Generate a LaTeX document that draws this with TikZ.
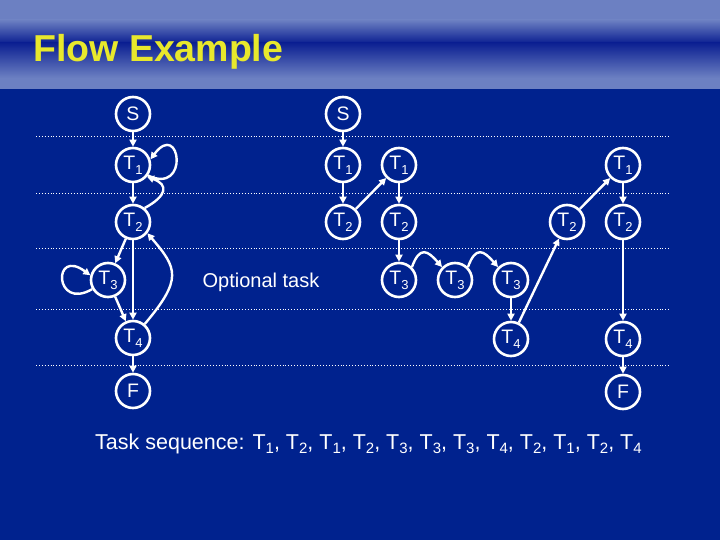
\documentclass[tikz,border=0pt]{standalone}
\usepackage{fontspec}
\setmainfont{Liberation Sans}
\usepackage{tikz}
\usetikzlibrary{arrows.meta,calc}

\definecolor{slidebg}{RGB}{0,34,142}
\definecolor{bandlight}{RGB}{108,128,194}
\definecolor{banddark}{RGB}{12,32,146}
\definecolor{titleyellow}{RGB}{232,232,44}

% label T with subscript
\newcommand{\tsub}[2]{#1\raisebox{-5pt}{\fontsize{13}{13}\selectfont #2}}
\newcommand{\tseq}[1]{T\raisebox{-4.5pt}{\fontsize{15}{15}\selectfont #1}}

\tikzset{
  task/.style={circle, draw=white, line width=2.6pt, minimum size=34pt,
    inner sep=0pt, text=white, font=\fontsize{19.5}{19.5}\selectfont},
  flow/.style={draw=white, line width=2.4pt,
    -{Triangle[length=7pt,width=7pt]}},
  guide/.style={white, line width=0.9pt, dotted}
}

\begin{document}
\begin{tikzpicture}[x=1pt,y=-1pt]
% background and title band
\fill[slidebg] (0,0) rectangle (720,540);
\fill[bandlight] (0,0) rectangle (720,20);
\shade[top color=bandlight, bottom color=banddark] (0,20) rectangle (720,43);
\shade[top color=banddark, bottom color=bandlight] (0,43) rectangle (720,78);
\fill[bandlight] (0,78) rectangle (720,89);
\useasboundingbox (0,0) rectangle (720,540);
\node[anchor=base west, text=titleyellow, inner sep=0pt,
  font=\fontsize{37.5}{37.5}\selectfont\bfseries] (title) at (33,62) {Flow Example};

% dotted row separators
\foreach \y in {136,193,248,309,365}
  \draw[guide] (36,\y) -- (671,\y);

% first trace
\node[task] (s1) at (133,114) {S};
\node[task] (t1) at (133,165) {\tsub{T}{1}};
\node[task] (t2) at (133,222) {\tsub{T}{2}};
\node[task] (t3) at (108,280) {\tsub{T}{3}};
\node[task] (t4) at (133,338) {\tsub{T}{4}};
\node[task] (f1) at (133,391) {F};

\draw[flow] (s1) -- (t1);
\draw[flow] (t1) -- (t2);
\draw[flow] (t1.-35) .. controls +(42,20) and +(30,-40) .. (t1.18);
\draw[flow] (t2.50) .. controls +(22,-12) and +(22,8) .. (t1.-40);
\draw[flow] (t2) -- (t3);
\draw[flow] (t3.-150) .. controls +(-38,22) and +(-38,-28) .. (t3.165);
\draw[flow] (t2) -- (t4);
\draw[flow] (t3) -- (t4);
\draw[flow] (t4.50) .. controls +(38,-45) and +(30,35) .. (t2.-38);
\draw[flow] (t4) -- (f1);

\node[text=white, font=\fontsize{20}{20}\selectfont] (opt) at (261,282) {Optional task};

% second trace
\node[task] (s2) at (343,114) {S};
\node[task] (t1b) at (343,165) {\tsub{T}{1}};
\node[task] (t2b) at (343,222) {\tsub{T}{2}};
\node[task] (t1c) at (399,165) {\tsub{T}{1}};
\node[task] (t2c) at (399,222) {\tsub{T}{2}};
\node[task] (t3b) at (399,280) {\tsub{T}{3}};
\node[task] (t3c) at (455,280) {\tsub{T}{3}};
\node[task] (t3d) at (511,280) {\tsub{T}{3}};
\node[task] (t4b) at (511,339) {\tsub{T}{4}};
\node[task] (t2d) at (567,222) {\tsub{T}{2}};
\node[task] (t1d) at (623,165) {\tsub{T}{1}};
\node[task] (t2e) at (623,222) {\tsub{T}{2}};
\node[task] (t4c) at (623,339) {\tsub{T}{4}};
\node[task] (f2) at (623,392) {F};

\draw[flow] (s2) -- (t1b);
\draw[flow] (t1b) -- (t2b);
\draw[flow] (t2b) -- (t1c);
\draw[flow] (t1c) -- (t2c);
\draw[flow] (t2c) -- (t3b);
\draw[flow] (t3b.45) .. controls +(8,-22) and +(-14,-16) .. (t3c.135);
\draw[flow] (t3c.45) .. controls +(8,-22) and +(-14,-16) .. (t3d.135);
\draw[flow] (t3d) -- (t4b);
\draw[flow] (t4b) -- (t2d);
\draw[flow] (t2d) -- (t1d);
\draw[flow] (t1d) -- (t2e);
\draw[flow] (t2e) -- (t4c);
\draw[flow] (t4c) -- (f2);

\node[anchor=base west, text=white, inner sep=0pt, font=\fontsize{21.5}{21.5}\selectfont] (seq) at (95,449)
  {Task sequence: \tseq{1}, \tseq{2}, \tseq{1}, \tseq{2}, \tseq{3}, \tseq{3}, \tseq{3}, \tseq{4}, \tseq{2}, \tseq{1}, \tseq{2}, \tseq{4}};
\end{tikzpicture}
\end{document}
